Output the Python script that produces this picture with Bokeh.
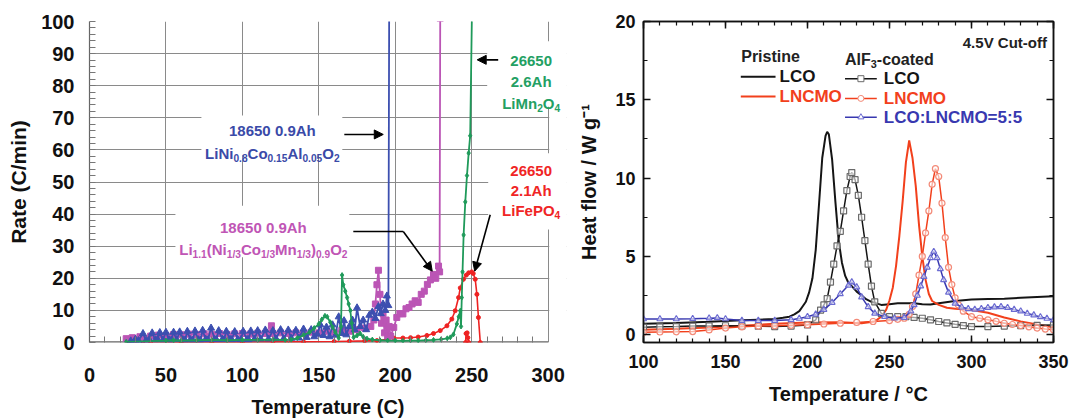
from bokeh.plotting import figure
from bokeh.models import (Label, Arrow, NormalHead, BoxAnnotation, LinearAxis,
                          Range1d, FixedTicker, SingleIntervalTicker)
from bokeh.layouts import row
from bokeh.embed import file_html
from bokeh.resources import INLINE

# ---------------- LEFT PANEL DATA (Temperature C, Rate C/min) ----------------
nca_t = [27, 30, 32, 35, 37, 39, 41, 43, 44.5, 46, 48, 50, 52, 53.5, 55, 57, 59, 61, 62.5, 64, 66,
         67.5, 69, 71, 72.5, 74, 76, 77.5, 79.5, 82, 83, 84.5, 87, 88, 89.5, 92, 93, 95, 97, 99,
         100.5, 103, 104, 105.5, 108, 110, 112, 115, 117, 120, 122, 125, 127, 130, 132, 135, 137,
         140, 142, 145, 147, 149, 151, 153, 155, 157, 159, 161, 163, 165, 166.5, 168, 170, 172,
         173.5, 175, 177, 179, 181, 183, 185, 187, 189, 190.5, 192, 193.5, 194.5, 195.5, 196]
nca_r = [0.5, 1.0, 0.6, 2.8, 0.7, 1.0, 3.0, 0.8, 1.0, 3.1, 0.8, 3.2, 0.9, 0.8, 3.2, 0.9, 3.3, 0.9,
         0.8, 3.5, 0.9, 0.8, 3.6, 0.9, 0.8, 3.8, 1.0, 0.9, 4.5, 1.0, 0.9, 3.7, 1.0, 0.9, 3.5, 1.0,
         0.9, 3.4, 1.0, 0.9, 3.5, 1.0, 0.9, 3.6, 1.1, 3.7, 1.1, 3.9, 1.1, 3.7, 1.2, 4.0, 1.2, 3.9,
         1.3, 3.8, 1.4, 4.2, 1.6, 4.0, 1.8, 2.6, 5.5, 2.2, 4.8, 1.8, 5.5, 2.3, 8.0, 2.8, 6.8, 2.4,
         5.0, 7.0, 4.0, 10.8, 5.0, 7.0, 4.0, 8.5, 9.5, 7.5, 11.2, 9.0, 12.0, 10.0, 14.5, 11.5, 101]

nmc_t = [24, 26, 28, 30, 33, 36, 40, 45, 50, 55, 60, 65, 70, 75, 80, 85, 90, 95, 100, 105, 110,
         115, 118, 119, 120, 125, 130, 135, 140, 145, 150, 155, 160, 165, 170, 175, 180, 184, 186,
         187, 188, 189, 190, 191, 192, 193, 194, 195, 196, 197, 199, 201, 203, 205, 207, 209, 211,
         213, 215, 217, 219, 221, 223, 225, 226.5, 228.3, 229, 229.4]
nmc_r = [1.2, 0.8, 1.5, 1.0, 1.8, 1.2, 2.0, 2.3, 2.2, 2.5, 2.4, 2.6, 2.5, 2.7, 2.6, 2.8, 2.5, 2.7,
         2.8, 2.6, 2.9, 2.8, 3.0, 5.2, 2.8, 3.0, 2.8, 3.0, 2.9, 3.2, 3.0, 3.5, 3.2, 3.8, 3.5, 4.0,
         4.5, 5.0, 7.0, 12.0, 18.0, 22.5, 15.0, 6.0, 9.0, 3.0, 7.0, 2.0, 5.0, 2.0, 4.7, 7.8, 9.0,
         8.9, 10.5, 10.9, 12.0, 13.0, 12.5, 15.0, 16.0, 18.1, 19.5, 21.2, 20.0, 23.8, 22.0, 101]

lmo_t = [24, 50, 55, 60, 70, 80, 90, 100, 110, 120, 128, 132, 136, 140, 144, 147, 150, 152, 154,
         155.5, 157.5, 159, 160.8, 163, 164.5, 165.2, 166, 167.3, 168.5, 169.5, 170.6, 171.5,
         172.8, 175, 177, 179, 181.5, 185, 190, 195, 200, 205, 210, 215, 220, 225, 230, 234, 236,
         238, 240.3, 241.5, 242.5, 243, 243.5, 244, 244.7, 245.8, 246.9, 248, 249, 250.1]
lmo_r = [0.2, 0.6, 0.7, 0.6, 0.7, 0.8, 0.7, 0.8, 0.8, 0.9, 0.8, 0.9, 1.4, 2.3, 3.2, 4.5, 5.8, 7.2,
         8.3, 8.0, 6.3, 4.8, 3.2, 1.4, 5.0, 21.0, 18.0, 16.0, 14.0, 12.0, 10.0, 6.0, 1.6, 2.2, 2.8,
         1.8, 1.2, 0.9, 0.7, 0.6, 0.6, 0.5, 0.6, 0.6, 0.7, 0.8, 1.0, 1.3, 1.6, 2.5, 5.8, 8.0, 9.9,
         5.0, 14.0, 22.0, 33.5, 43.8, 52.0, 59.0, 64.4, 101]

lfp_t = [24, 26, 28, 30, 32, 35, 40, 60, 80, 100, 120, 140, 160, 170, 180, 188, 195, 199, 205, 210,
         215, 220.7, 225, 229.4, 233.8, 237, 239.2, 241.4, 242.5, 244.6, 246.5, 248, 250, 251,
         252.3, 253.4, 254.4, 255.6]
lfp_r = [0.8, 0.5, 1.0, 0.6, 0.8, 0.3, 0.2, 0.1, 0.1, 0.1, 0.2, 0.2, 0.3, 0.4, 0.5, 0.6, 1.0, 1.4,
         1.4, 1.5, 1.7, 2.2, 2.8, 3.7, 5.2, 7.3, 9.9, 14.0, 17.0, 19.7, 21.0, 21.7, 22.0, 21.5,
         19.7, 15.0, 7.8, 0.0]
lfp_blip_t = [246, 246.3, 247, 247.5, 248]
lfp_blip_r = [0.0, 2.8, 3.0, 1.5, 0.0]

left_xticks = [0, 50, 100, 150, 200, 250, 300]
left_xminor = [10, 20, 30, 40, 60, 70, 80, 90, 110, 120, 130, 140, 160, 170, 180, 190,
               210, 220, 230, 240, 260, 270, 280, 290]
left_yticks = [0, 10, 20, 30, 40, 50, 60, 70, 80, 90, 100]

# ---------------- RIGHT PANEL DATA (Temperature C, Heat flow W/g) ----------------
lco_t = [100, 120, 140, 150, 160, 170, 180, 185, 189, 192, 195, 197, 199, 201, 203, 205, 207, 209,
         211, 212, 213, 215, 217, 219, 221, 223, 225, 227, 230, 233, 236, 239, 242, 245, 250, 255,
         260, 265, 270, 275, 280, 290, 300, 310, 320, 330, 340, 350]
lco_h = [0.69, 0.75, 0.82, 0.88, 0.92, 0.96, 1.0, 1.08, 1.15, 1.3, 1.5, 1.8, 2.1, 2.7, 3.6, 5.4,
         8.3, 11.3, 12.7, 12.95, 12.8, 11.2, 8.5, 6.0, 4.6, 3.75, 3.3, 3.1, 2.75, 2.5, 2.25, 2.1,
         2.0, 1.9, 1.95, 2.0, 2.0, 2.0, 1.95, 1.92, 2.0, 2.15, 2.24, 2.28, 2.3, 2.35, 2.4, 2.45]

lncmo_t = [100, 120, 140, 150, 160, 180, 200, 220, 233, 241, 245, 248, 250, 252, 254, 256, 258,
           260, 262, 264, 266, 268, 270, 272, 274, 276, 280, 285, 290, 300, 310, 320, 330, 340, 350]
lncmo_h = [0.31, 0.38, 0.46, 0.52, 0.57, 0.69, 0.77, 0.79, 0.73, 0.84, 1.15, 1.6, 2.2, 3.0, 4.4,
           6.3, 8.5, 11.0, 12.4, 11.3, 9.5, 7.0, 5.0, 3.5, 2.6, 2.15, 1.9, 1.72, 1.65, 1.57, 1.4,
           1.1, 0.85, 0.65, 0.48]

c_lco_t = [100, 110, 120, 130, 140, 150, 160, 170, 180, 190, 200, 205, 208, 210, 212, 214, 216,
           218, 220, 222, 224, 226, 227, 229, 231, 233, 235, 237, 239, 241, 245, 250, 255, 260,
           265, 270, 275, 280, 285, 290, 295, 300, 310, 320, 330, 340, 350]
c_lco_h = [0.48, 0.50, 0.52, 0.55, 0.56, 0.57, 0.56, 0.54, 0.52, 0.55, 0.62, 0.94, 1.57, 1.9, 2.3,
           3.36, 4.5, 5.67, 6.6, 7.9, 9.2, 10.1, 10.35, 9.9, 8.9, 7.5, 6.0, 4.5, 3.1, 2.1, 1.36,
           1.15, 1.15, 1.15, 1.1, 1.05, 0.95, 0.84, 0.75, 0.66, 0.58, 0.52, 0.52, 0.55, 0.58, 0.6,
           0.62]

c_lncmo_t = [100, 110, 120, 130, 140, 150, 160, 170, 180, 190, 200, 210, 220, 230, 240, 250, 255,
             259, 262, 264, 266, 268, 270, 272, 274, 276, 278, 280, 282, 284, 286, 288, 290, 292,
             295, 300, 305, 310, 315, 320, 325, 330, 335, 340, 345, 350]
c_lncmo_h = [0.15, 0.17, 0.18, 0.2, 0.3, 0.42, 0.5, 0.55, 0.57, 0.6, 0.63, 0.68, 0.73, 0.78, 0.84,
             0.9, 0.98, 1.05, 1.3, 1.8, 2.6, 3.8, 5.0, 6.5, 7.9, 9.6, 10.6, 10.1, 8.4, 6.2, 4.3,
             3.2, 2.35, 1.9, 1.5, 1.15, 1.05, 0.95, 0.85, 0.73, 0.65, 0.58, 0.5, 0.42, 0.36, 0.31]

c_mix_t = [100, 110, 120, 130, 140, 145, 150, 160, 170, 180, 190, 195, 200, 205, 210, 215, 220,
           225, 227, 230, 233, 237, 241, 247, 253, 259, 263, 265, 267, 269, 271, 273, 275, 277,
           279, 281, 283, 286, 290, 294, 298, 302, 306, 310, 314, 318, 322, 326, 330, 334, 338,
           342, 346, 350]
c_mix_h = [1.0, 1.0, 1.0, 1.02, 1.05, 1.07, 1.0, 0.9, 0.9, 0.9, 0.95, 1.03, 1.15, 1.3, 1.6, 2.05,
           2.6, 3.15, 3.36, 3.04, 2.4, 1.78, 1.36, 1.15, 1.05, 1.09, 1.5, 1.9, 2.5, 3.1, 3.7, 4.3,
           4.9, 5.3, 4.9, 4.2, 3.5, 2.7, 2.0, 1.75, 1.65, 1.61, 1.65, 1.72, 1.76, 1.78, 1.72, 1.6,
           1.5, 1.35, 1.25, 1.13, 1.03, 0.94]

right_xticks = [100, 150, 200, 250, 300, 350]
right_yticks = [0, 5, 10, 15, 20]

# ---------------- styling ----------------
FONT = "Liberation Sans"
BLUE, MAG, GREEN, RED = "#3c4fb0", "#bb55b5", "#1f9a5a", "#ee2222"
BLUE_T, MAG_T, GREEN_T, RED_T = "#3a4aa8", "#c055b5", "#23a063", "#f02525"
R_BLACK, R_RED, R_BLUE = "#151515", "#f2401c", "#3838b0"

W = {' ': 278, '(': 333, ')': 333, '-': 333, '.': 278, '/': 278, ':': 333, '=': 584,
     'A': 722, 'C': 722, 'F': 611, 'L': 611, 'M': 833, 'N': 722, 'O': 778, 'P': 667,
     'h': 611, 'i': 278, 'l': 278, 'n': 611, 'o': 611, 'e': 556, 'a': 556, 't': 333,
     'c': 556, 'd': 611, 'r': 389, 's': 556, 'u': 611, 'f': 333}


def tw(s, size):
    return sum(W.get(ch, 556) for ch in s) / 1000.0 * size


def rich(p, segs, x, y, size, color, align="center"):
    sub = size * 0.68
    total = sum(tw(t, sub if s else size) for t, s in segs)
    off = -total / 2 if align == "center" else 0.0
    for t, s in segs:
        fs = sub if s else size
        p.add_layout(Label(x=x, y=y, x_offset=off, y_offset=(-size * 0.3 if s else 0),
                           text=t, text_font=FONT, text_font_style="bold",
                           text_font_size=f"{fs:.1f}px", text_color=color,
                           text_align="left", text_baseline="alphabetic"))
        off += tw(t, fs)


# pixel -> data helpers (layout positions only)
def lx(px): return (px - 89) / 1.53
def ly(py): return (342 - py) / 3.24
def rx(px): return 100 + (px - 640) / 1.652
def ry(py): return 20 - (py - 21) / 15.88


# ================= LEFT FIGURE =================
# frame extends a little past 300 so the right-hand annotations are not clipped
p1 = figure(width=575, height=420, output_backend="svg", toolbar_location=None,
            x_range=Range1d(0, 312), y_range=Range1d(0, 100),
            min_border_left=89, min_border_right=9, min_border_top=18, min_border_bottom=78)
p1.outline_line_color = None
p1.background_fill_color = "white"
p1.xaxis.ticker = FixedTicker(ticks=left_xticks, minor_ticks=left_xminor)
p1.yaxis.ticker = SingleIntervalTicker(interval=10, num_minor_ticks=5)
for ax in (p1.xaxis[0], p1.yaxis[0]):
    ax.axis_line_color = "#666666"
    ax.axis_line_width = 1.2
    ax.major_tick_in = 0
    ax.major_tick_out = 0
    ax.minor_tick_in = 6
    ax.minor_tick_out = 0
    ax.minor_tick_line_color = "#777777"
    ax.major_label_text_font = FONT
    ax.major_label_text_font_style = "bold"
    ax.major_label_text_font_size = "20px"
    ax.major_label_text_color = "#111111"
    ax.axis_label_text_font = FONT
    ax.axis_label_text_font_style = "bold"
    ax.axis_label_text_color = "#111111"
p1.xaxis.axis_line_color = None
p1.xaxis.axis_label = "Temperature (C)"
p1.xaxis.axis_label_text_font_size = "20px"
p1.xaxis.major_label_standoff = 25
p1.xaxis.axis_label_standoff = 11
p1.yaxis.axis_label = "Rate (C/min)"
p1.yaxis.axis_label_text_font_size = "21px"
p1.yaxis.major_label_standoff = 15
p1.yaxis.axis_label_standoff = 8
p1.grid.grid_line_color = "#8a8a8a"
p1.grid.grid_line_width = 1

# white strip right of 300 (hides grid beyond the last gridline)
p1.add_layout(BoxAnnotation(left=300.7, right=320, top=110, bottom=-10, fill_color="white",
                            fill_alpha=1, line_color=None, level="underlay"))
# white boxes behind annotation texts
for (x0, x1, y0, y1) in [(201, 342, 113, 153), (175, 349, 204, 256), (487, 580, 38, 104),
                         (488, 580, 151, 228)]:
    p1.add_layout(BoxAnnotation(left=lx(x0), right=lx(x1), top=ly(y0), bottom=ly(y1),
                                fill_color="white", fill_alpha=1, line_color=None,
                                level="underlay"))
# bottom axis line from 0 to 300 only
p1.segment(x0=[0], y0=[0], x1=[300], y1=[0], line_color="#666666", line_width=2.4)

p1.line(lfp_t, lfp_r, color=RED, line_width=1.6)
p1.scatter(lfp_t, lfp_r, marker="circle", size=4, color=RED)
p1.line(lfp_blip_t, lfp_blip_r, color=RED, line_width=1.6)
p1.scatter(lfp_blip_t, lfp_blip_r, marker="circle", size=4, color=RED)
p1.line(nmc_t, nmc_r, color=MAG, line_width=1.8)
p1.scatter(nmc_t, nmc_r, marker="square", size=6, color=MAG)
p1.line(nca_t, nca_r, color=BLUE, line_width=1.8)
p1.scatter(nca_t, nca_r, marker="triangle", size=7, color=BLUE)
p1.line(lmo_t, lmo_r, color=GREEN, line_width=1.8)
p1.scatter(lmo_t, lmo_r, marker="diamond", size=5, color=GREEN)

# annotation texts
rich(p1, [("18650 0.9Ah", 0)], lx(272), ly(128.5), 15, BLUE_T)
rich(p1, [("LiNi", 0), ("0.8", 1), ("Co", 0), ("0.15", 1), ("Al", 0), ("0.05", 1), ("O", 0), ("2", 1)],
     lx(272), ly(151.5), 15, BLUE_T)
rich(p1, [("18650 0.9Ah", 0)], lx(263), ly(225.5), 15, MAG_T)
rich(p1, [("Li", 0), ("1.1", 1), ("(Ni", 0), ("1/3", 1), ("Co", 0), ("1/3", 1), ("Mn", 0), ("1/3", 1),
          (")", 0), ("0.9", 1), ("O", 0), ("2", 1)], lx(263), ly(248.5), 15, MAG_T)
rich(p1, [("26650", 0)], lx(531), ly(58), 15, GREEN_T)
rich(p1, [("2.6Ah", 0)], lx(531), ly(78.5), 15, GREEN_T)
rich(p1, [("LiMn", 0), ("2", 1), ("O", 0), ("4", 1)], lx(531), ly(100.5), 15, GREEN_T)
rich(p1, [("26650", 0)], lx(531), ly(168.5), 15, RED_T)
rich(p1, [("2.1Ah", 0)], lx(531), ly(188.5), 15, RED_T)
rich(p1, [("LiFePO", 0), ("4", 1)], lx(531), ly(208.5), 15, RED_T)

# arrows
def head():
    return NormalHead(size=9, fill_color="black", line_color="black")

p1.add_layout(Arrow(end=head(), x_start=lx(344), y_start=ly(132), x_end=lx(383), y_end=ly(132),
                    line_width=1.6, line_color="black"))
p1.add_layout(Arrow(end=None, x_start=lx(353), y_start=ly(230), x_end=lx(403), y_end=ly(230),
                    line_width=1.6, line_color="black"))
p1.add_layout(Arrow(end=head(), x_start=lx(403), y_start=ly(230), x_end=lx(432), y_end=ly(270),
                    line_width=1.6, line_color="black"))
p1.add_layout(Arrow(end=head(), x_start=lx(498), y_start=ly(56.7), x_end=lx(477), y_end=ly(56.7),
                    line_width=1.6, line_color="black"))
p1.add_layout(Arrow(end=head(), x_start=lx(490), y_start=ly(213), x_end=lx(474.5), y_end=ly(270),
                    line_width=1.6, line_color="black"))

# ================= RIGHT FIGURE =================
p2 = figure(width=494, height=420, output_backend="svg", toolbar_location=None,
            x_range=Range1d(100, 350), y_range=Range1d(-0.5, 20),
            min_border_left=65, min_border_right=16, min_border_top=21, min_border_bottom=73)
p2.grid.visible = False
p2.outline_line_color = "#111111"
p2.outline_line_width = 1.5
xt = SingleIntervalTicker(interval=50, num_minor_ticks=5)
yt = SingleIntervalTicker(interval=5, num_minor_ticks=2)
bottom_ax = p2.below[0]
left_ax = p2.left[0]
bottom_ax.ticker = xt
left_ax.ticker = yt
top_ax = LinearAxis(ticker=xt)
right_ax = LinearAxis(ticker=yt)
p2.add_layout(top_ax, "above")
p2.add_layout(right_ax, "right")
for ax in (bottom_ax, left_ax, top_ax, right_ax):
    ax.axis_line_color = "#111111"
    ax.axis_line_width = 1.5
    ax.major_tick_in = 7
    ax.major_tick_out = 0
    ax.minor_tick_in = 4
    ax.minor_tick_out = 0
    ax.major_tick_line_width = 1.5
    ax.minor_tick_line_width = 1.2
    ax.major_tick_line_color = "#111111"
    ax.minor_tick_line_color = "#111111"
    ax.major_label_text_font = FONT
    ax.major_label_text_font_style = "bold"
    ax.major_label_text_font_size = "18px"
    ax.major_label_text_color = "#111111"
    ax.axis_label_text_font = FONT
    ax.axis_label_text_font_style = "bold"
    ax.axis_label_text_font_size = "20px"
    ax.axis_label_text_color = "#111111"
top_ax.major_label_overrides = {v: "" for v in right_xticks}
right_ax.major_label_overrides = {v: "" for v in right_yticks}
top_ax.major_label_standoff = 0
right_ax.major_label_standoff = 0
bottom_ax.axis_label = "Temperature / °C"
bottom_ax.major_label_standoff = 12
bottom_ax.axis_label_standoff = 12
left_ax.axis_label = "Heat flow / W g⁻¹"
left_ax.major_label_standoff = 8
left_ax.axis_label_standoff = 12

p2.line(lco_t, lco_h, color=R_BLACK, line_width=2)
p2.line(lncmo_t, lncmo_h, color=R_RED, line_width=2)
p2.line(c_lco_t, c_lco_h, color=R_BLACK, line_width=1.5)
p2.scatter(c_lco_t, c_lco_h, marker="square", size=6, line_color="#6a6a6a", fill_color="white",
           fill_alpha=0.6, line_width=1.2)
p2.line(c_lncmo_t, c_lncmo_h, color=R_RED, line_width=1.5)
p2.scatter(c_lncmo_t, c_lncmo_h, marker="circle", size=6, line_color="#f38a78", fill_color="white",
           fill_alpha=0.6, line_width=1.2)
p2.line(c_mix_t, c_mix_h, color=R_BLUE, line_width=1.5)
p2.scatter(c_mix_t, c_mix_h, marker="triangle", size=6, line_color="#6c6cd2", fill_color="white",
           fill_alpha=0.6, line_width=1.2)

# legend (manual)
def rlabel(text, px, py, size, color, align="left"):
    p2.add_layout(Label(x=rx(px), y=ry(py), text=text, text_font=FONT, text_font_style="bold",
                        text_font_size=f"{size}px", text_color=color, text_align=align,
                        text_baseline="middle"))

rlabel("4.5V Cut-off", 1004, 42, 15, "#222222", "center")
rlabel("Pristine", 768, 57, 16, "#222222", "center")
rich(p2, [("AlF", 0), ("3", 1), ("-coated", 0)], rx(843), ry(59.5), 16, "#222222", align="left")

p2.line([rx(738), rx(773)], [ry(77), ry(77)], color=R_BLACK, line_width=2)
rlabel("LCO", 777, 77, 17, "#151515")
p2.line([rx(738), rx(773)], [ry(97), ry(97)], color=R_RED, line_width=2)
rlabel("LNCMO", 777, 97, 17, R_RED)

p2.line([rx(843), rx(875)], [ry(79), ry(79)], color=R_BLACK, line_width=1.5)
p2.scatter([rx(859)], [ry(79)], marker="square", size=6, line_color="#6a6a6a", fill_color="white")
rlabel("LCO", 882, 79, 17, "#151515")
p2.line([rx(843), rx(875)], [ry(99), ry(99)], color=R_RED, line_width=1.5)
p2.scatter([rx(859)], [ry(99)], marker="circle", size=6, line_color="#f38a78", fill_color="white")
rlabel("LNCMO", 882, 99, 17, R_RED)
p2.line([rx(843), rx(875)], [ry(118), ry(118)], color=R_BLUE, line_width=1.5)
p2.scatter([rx(859)], [ry(118)], marker="triangle", size=6, line_color="#6c6cd2", fill_color="white")
rlabel("LCO:LNCMO=5:5", 882, 118, 17, R_BLUE)

layout = row(p1, p2)
open("out.html", "w").write(file_html(layout, INLINE))
